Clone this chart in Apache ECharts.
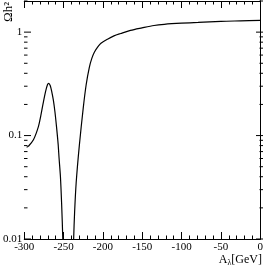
<!DOCTYPE html>
<html><head><meta charset="utf-8">
<script src="https://cdn.jsdelivr.net/npm/echarts@6/dist/echarts.min.js"></script>
<style>html,body{margin:0;padding:0;background:#fff}#c{width:266px;height:267px}</style>
</head><body><div id="c"></div>
<script>
var aLambda = [-297, -294.6, -288.3, -282, -279, -276, -273, -270.5, -269, -267, -265, -263, -261, -259, -257, -255.7, -254, -252.5, -251, -249, -244, -239, -237.2, -236, -234, -230, -225, -221.3, -217.2, -214, -210.9, -206.5, -202.5, -194.2, -186, -177.4, -165, -150.3, -135, -122, -100, -79, -50, -25, 0];
var omegaH2 = [0.077, 0.079, 0.091, 0.122, 0.155, 0.205, 0.265, 0.31, 0.32, 0.305, 0.265, 0.22, 0.17, 0.122, 0.084, 0.06, 0.04, 0.022, 0.01, 0.002, 0.0003, 0.003, 0.01, 0.018, 0.035, 0.08, 0.185, 0.31, 0.46, 0.56, 0.64, 0.72, 0.78, 0.855, 0.92, 0.97, 1.04, 1.10, 1.16, 1.19, 1.22, 1.24, 1.27, 1.285, 1.30];
var yMajor = [0.01, 0.1, 1];
var yMinor = [0.02,0.03,0.04,0.05,0.06,0.07,0.08,0.09,0.2,0.3,0.4,0.5,0.6,0.7,0.8,0.9,2];
var yLabels = {'0.01':'0.01','0.1':'0.1','1':'1'};

var FONT = 'Liberation Serif';
var chart = echarts.init(document.getElementById('c'), null, {renderer:'canvas'});
var data = aLambda.map(function(a,i){return [a, omegaH2[i]];});
var L = 24, R = 263, T = 1, B = 239;
var xCommon = {type:'value', min:-300, max:0, interval:50,
  axisLine:{show:true, lineStyle:{color:'#000', width:1}},
  axisTick:{show:true, inside:true, length:7, lineStyle:{color:'#000'}},
  minorTick:{show:true, splitNumber:5, length:3.5, lineStyle:{color:'#000'}},
  splitLine:{show:false}, minorSplitLine:{show:false}};
var yCommon = {type:'log', logBase:10, min:0.01, max:2,
  axisLine:{show:true, lineStyle:{color:'#000', width:1}},
  axisTick:{show:false}, splitLine:{show:false}};
chart.setOption({
  animation:false,
  grid:{left:L, right:266-R, top:T, bottom:267-B, containLabel:false},
  xAxis:[
    Object.assign({}, xCommon, {position:'bottom',
      axisLabel:{show:true, color:'#000', fontFamily:FONT, fontSize:11, margin:3,
        formatter:function(v){return String(v);}}}),
    Object.assign({}, xCommon, {position:'top', axisLabel:{show:false}})
  ],
  yAxis:[
    Object.assign({}, yCommon, {position:'left',
      axisLabel:{show:true, color:'#000', fontFamily:FONT, fontSize:11, margin:2,
        formatter:function(v){var k=String(+v.toPrecision(3)); return yLabels[k]||'';}}}),
    Object.assign({}, yCommon, {position:'right', axisLabel:{show:false}})
  ],
  series:[{type:'line', data:data, xAxisIndex:0, yAxisIndex:0, showSymbol:false, smooth:0.3,
    clip:true, lineStyle:{color:'#000', width:1.2}}]
});
var g = [];
function tick(v, len){
  var y = chart.convertToPixel({yAxisIndex:0}, v);
  g.push({type:'line', silent:true, shape:{x1:L, y1:y, x2:L+len, y2:y}, style:{stroke:'#000', lineWidth:1}});
  g.push({type:'line', silent:true, shape:{x1:R, y1:y, x2:R-len, y2:y}, style:{stroke:'#000', lineWidth:1}});
}
yMajor.forEach(function(v){tick(v, 7);});
yMinor.forEach(function(v){tick(v, 3.5);});
g.push({type:'text', silent:true, x:9, y:12, rotation:Math.PI/2,
  style:{text:'Ωh²', font:'13px "'+FONT+'"', fill:'#000', align:'center', verticalAlign:'middle'}});
g.push({type:'text', silent:true, x:262, y:260,
  style:{text:'{a|A}{b|λ}{a|[GeV]}', align:'right', verticalAlign:'middle', fill:'#000',
    rich:{a:{fontFamily:FONT, fontSize:12, fill:'#000'}, b:{fontFamily:FONT, fontSize:8, fill:'#000', padding:[6,0,0,0]}}}});
chart.setOption({graphic:g});
</script></body></html>
